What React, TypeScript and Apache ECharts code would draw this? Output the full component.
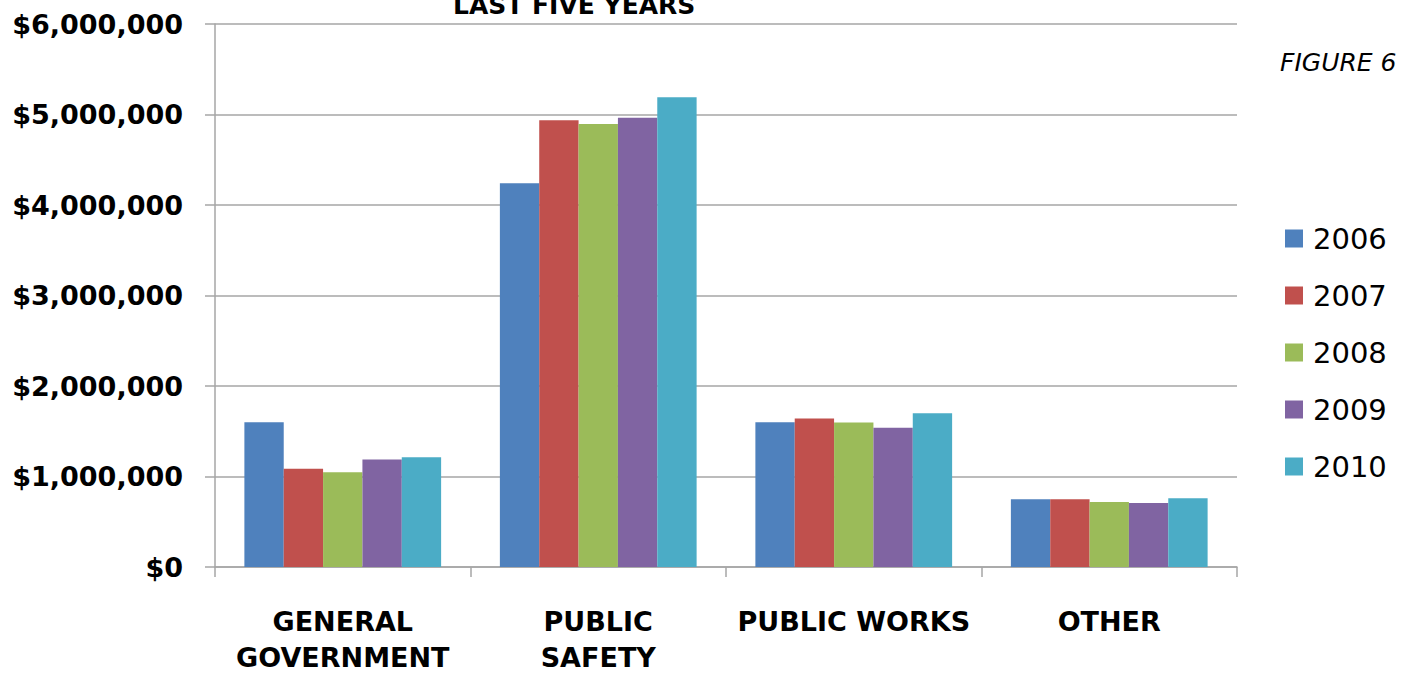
import React, { useEffect, useRef } from "react";
import * as echarts from "echarts";

const categories = ["GENERAL\nGOVERNMENT", "PUBLIC\nSAFETY", "PUBLIC WORKS", "OTHER"];
const years = ["2006", "2007", "2008", "2009", "2010"];
const v2006 = [1600000, 4240000, 1600000, 748000];
const v2007 = [1087000, 4936000, 1640000, 748000];
const v2008 = [1047000, 4895000, 1596000, 718000];
const v2009 = [1187000, 4965000, 1540000, 707000];
const v2010 = [1212000, 5190000, 1698000, 760000];
const seriesValues = [v2006, v2007, v2008, v2009, v2010];
const colors = ["#4F81BD", "#C0504D", "#9BBB59", "#8064A2", "#4BACC6"];
const yTicks = [0, 1000000, 2000000, 3000000, 4000000, 5000000, 6000000];

const font = "'DejaVu Sans', sans-serif";

export default function App() {
  const ref = useRef<HTMLDivElement>(null);
  useEffect(() => {
    if (!ref.current) return;
    const chart = echarts.init(ref.current, null, { renderer: "svg" });
    chart.setOption({
      animation: false,
      backgroundColor: "#ffffff",
      color: colors,
      grid: { left: 215, right: 170, top: 24, bottom: 108, containLabel: false, outerBoundsMode: "none" },
      legend: {
        orient: "vertical",
        left: 1280,
        top: 219,
        itemWidth: 18,
        itemHeight: 18,
        itemGap: 28,
        icon: "rect",
        data: years,
        textStyle: { fontFamily: font, fontSize: 29, lineHeight: 29, color: "#000", padding: [0, 0, 0, 5] },
      },
      graphic: [
        {
          type: "text",
          left: 453,
          top: -7,
          style: { text: "LAST FIVE YEARS", font: `bold 25px ${font}`, fill: "#000" },
        },
        {
          type: "text",
          left: 1280,
          top: 50,
          style: { text: "FIGURE 6", font: `italic 25px ${font}`, fill: "#000" },
        },
      ],
      xAxis: {
        type: "category",
        data: categories,
        axisLine: { show: true, lineStyle: { color: "#A6A6A6", width: 1.5 } },
        axisTick: { show: true, length: 10, lineStyle: { color: "#A6A6A6", width: 1.5 } },
        axisLabel: {
          interval: 0,
          margin: 36,
          fontFamily: font,
          fontWeight: "bold",
          fontSize: 27,
          lineHeight: 36,
          color: "#000",
        },
      },
      yAxis: {
        type: "value",
        min: 0,
        max: 6000000,
        interval: 1000000,
        axisLine: { show: true, lineStyle: { color: "#A6A6A6", width: 1.5 } },
        axisTick: { show: true, length: 10, lineStyle: { color: "#A6A6A6", width: 1.5 } },
        splitLine: { show: true, lineStyle: { color: "#A6A6A6", width: 1.5 } },
        axisLabel: {
          margin: 32,
          fontFamily: font,
          fontWeight: "bold",
          fontSize: 27,
          color: "#000",
          formatter: (v: number) => (yTicks.includes(v) ? "$" + v.toLocaleString("en-US") : ""),
        },
      },
      series: years.map((y, i) => ({
        name: y,
        type: "bar",
        data: seriesValues[i],
        barGap: "0%",
        barCategoryGap: "23%",
        itemStyle: { color: colors[i] },
      })),
    });
    return () => chart.dispose();
  }, []);
  return <div ref={ref} style={{ width: 1407, height: 675, position: "absolute", left: 0, top: 0 }} />;
}
